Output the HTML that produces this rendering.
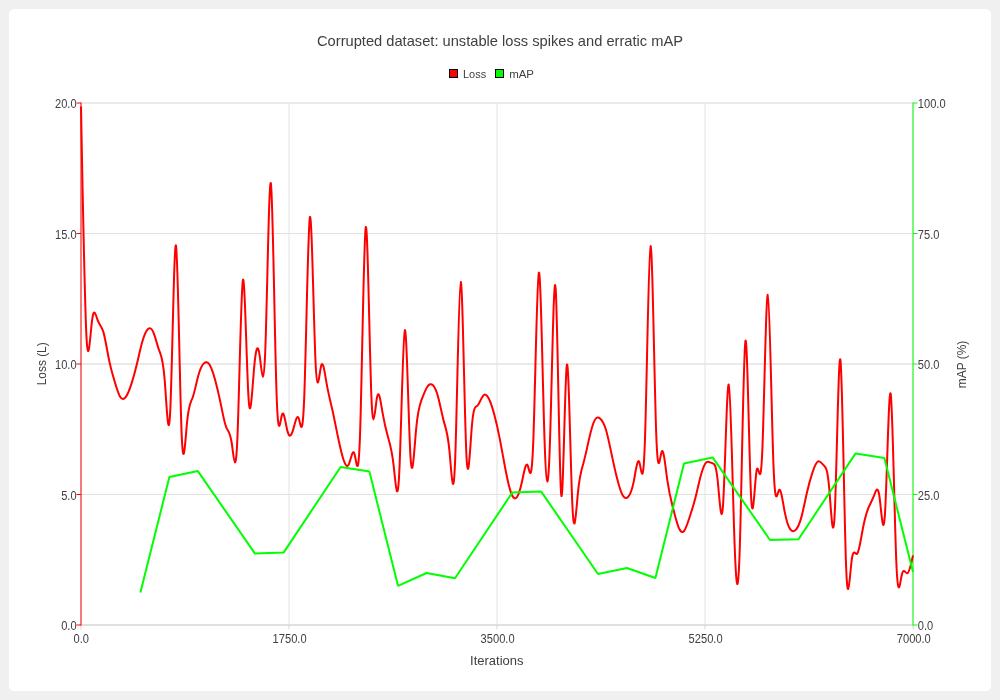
<!DOCTYPE html>
<html lang="en"><head><meta charset="utf-8"><title>Corrupted dataset: unstable loss spikes and erratic mAP</title>
<style>
html,body{margin:0;padding:0;background:#f0f0f0;width:1000px;height:700px;overflow:hidden}
svg{display:block}
text{font-family:"Liberation Sans",sans-serif;fill:#404044}
</style></head><body>
<svg width="1000" height="700" viewBox="0 0 1000 700">
<rect x="0" y="0" width="1000" height="700" fill="#f0f0f0"/>
<rect x="9" y="9" width="982" height="682" rx="5" ry="5" fill="#ffffff"/>
<g stroke="#e2e2e2" stroke-width="1" fill="none">
<line x1="81" y1="103" x2="81" y2="625"/><line x1="289" y1="103" x2="289" y2="625"/><line x1="497" y1="103" x2="497" y2="625"/><line x1="705" y1="103" x2="705" y2="625"/><line x1="913" y1="103" x2="913" y2="625"/><line x1="81" y1="103" x2="913" y2="103"/><line x1="81" y1="233.5" x2="913" y2="233.5"/><line x1="81" y1="364" x2="913" y2="364"/><line x1="81" y1="494.5" x2="913" y2="494.5"/><line x1="81" y1="625" x2="913" y2="625"/><line x1="81" y1="103" x2="913" y2="103"/><line x1="81" y1="364" x2="913" y2="364"/><line x1="81" y1="625" x2="913" y2="625"/>
</g>
<g stroke="#d6d6d6" stroke-width="1" fill="none">
<line x1="81" y1="625" x2="913" y2="625"/><line x1="81" y1="625" x2="81" y2="629.5"/><line x1="289" y1="625" x2="289" y2="629.5"/><line x1="497" y1="625" x2="497" y2="629.5"/><line x1="705" y1="625" x2="705" y2="629.5"/><line x1="913" y1="625" x2="913" y2="629.5"/>
</g>
<g stroke="#ff0000" stroke-width="1" fill="none">
<line x1="81" y1="103" x2="81" y2="625" stroke-linecap="square"/><line x1="76.5" y1="103" x2="81" y2="103"/><line x1="76.5" y1="233.5" x2="81" y2="233.5"/><line x1="76.5" y1="364" x2="81" y2="364"/><line x1="76.5" y1="494.5" x2="81" y2="494.5"/><line x1="76.5" y1="625" x2="81" y2="625"/>
</g>
<g stroke="#00ff00" stroke-width="1" fill="none">
<line x1="913" y1="103" x2="913" y2="625" stroke-linecap="square"/><line x1="913" y1="103" x2="917.5" y2="103"/><line x1="913" y1="233.5" x2="917.5" y2="233.5"/><line x1="913" y1="364" x2="917.5" y2="364"/><line x1="913" y1="494.5" x2="917.5" y2="494.5"/><line x1="913" y1="625" x2="917.5" y2="625"/>
</g>
<path d="M81 106.43C82.86 206.76 84.72 307.09 86.58 338.73C88.45 370.37 90.31 333.32 92.17 319.6C94.03 305.88 95.89 315.49 97.75 320.44C99.61 325.39 101.47 325.67 103.34 331.88C105.2 338.08 107.06 350.21 108.92 359.37C110.78 368.52 112.64 374.69 114.5 380.95C116.36 387.22 118.23 393.57 120.09 396.67C121.95 399.76 123.81 399.61 125.67 397.2C127.53 394.79 129.39 390.12 131.26 384.42C133.12 378.72 134.98 371.98 136.84 364.25C138.7 356.52 140.56 347.8 142.42 341.32C144.28 334.84 146.15 330.6 148.01 328.94C149.87 327.29 151.73 328.23 153.59 332.76C155.45 337.29 157.31 345.42 159.17 350.43C161.04 355.44 162.9 357.33 164.76 380.83C166.62 404.33 168.48 449.44 170.34 408.79C172.2 368.14 174.06 241.73 175.93 245.32C177.79 248.92 179.65 382.5 181.51 430.5C183.37 478.5 185.23 440.91 187.09 421.94C188.96 402.96 190.82 402.59 192.68 397.48C194.54 392.38 196.4 382.53 198.26 375.73C200.12 368.94 201.98 365.2 203.85 363.39C205.71 361.59 207.57 361.72 209.43 364.5C211.29 367.28 213.15 372.72 215.01 379.4C216.87 386.09 218.74 394.01 220.6 403.11C222.46 412.21 224.32 422.47 226.18 427.13C228.04 431.79 229.9 430.85 231.77 443.24C233.63 455.63 235.49 481.36 237.35 439.21C239.21 397.05 241.07 287.03 242.93 279.94C244.79 272.85 246.66 368.71 248.52 397.77C250.38 426.84 252.24 389.12 254.1 368.04C255.96 346.97 257.82 342.54 259.68 355.53C261.55 368.51 263.41 398.9 265.27 350.71C267.13 302.53 268.99 175.77 270.85 183.28C272.71 190.8 274.57 332.58 276.44 389.94C278.3 447.29 280.16 420.21 282.02 414.62C283.88 409.03 285.74 424.94 287.6 431.64C289.47 438.34 291.33 435.84 293.19 429.59C295.05 423.33 296.91 413.32 298.77 418.52C300.63 423.72 302.49 444.14 304.36 393.91C306.22 343.68 308.08 222.8 309.94 217.16C311.8 211.52 313.66 321.11 315.52 361.5C317.38 401.88 319.25 373.07 321.11 365.92C322.97 358.77 324.83 373.29 326.69 383.91C328.55 394.53 330.41 401.26 332.28 409.5C334.14 417.75 336 427.51 337.86 436.52C339.72 445.53 341.58 453.79 343.44 459.5C345.3 465.21 347.17 468.38 349.03 463.92C350.89 459.46 352.75 447.38 354.61 454.24C356.47 461.11 358.33 486.91 360.19 429.93C362.06 372.94 363.92 233.15 365.78 227.15C367.64 221.14 369.5 348.91 371.36 395.56C373.22 442.22 375.09 407.74 376.95 397.64C378.81 387.53 380.67 401.8 382.53 412.67C384.39 423.55 386.25 431.03 388.11 437.55C389.98 444.07 391.84 449.62 393.7 466.13C395.56 482.65 397.42 510.13 399.28 472.57C401.14 435.02 403 332.43 404.87 329.99C406.73 327.55 408.59 425.26 410.45 456.03C412.31 486.81 414.17 450.64 416.03 430.09C417.89 409.55 419.76 404.62 421.62 399.68C423.48 394.75 425.34 389.8 427.2 386.96C429.06 384.12 430.92 383.38 432.79 385.05C434.65 386.72 436.51 390.81 438.37 397.92C440.23 405.02 442.09 415.16 443.95 421.87C445.81 428.57 447.68 431.86 449.54 451.72C451.4 471.59 453.26 508.04 455.12 460.78C456.98 413.53 458.84 282.57 460.7 281.81C462.57 281.05 464.43 410.49 466.29 452.19C468.15 493.88 470.01 447.83 471.87 426.17C473.73 404.51 475.6 407.25 477.46 405.64C479.32 404.03 481.18 398.08 483.04 395.76C484.9 393.44 486.76 394.76 488.62 398.24C490.49 401.71 492.35 407.34 494.21 414.25C496.07 421.16 497.93 429.34 499.79 438.88C501.65 448.42 503.51 459.31 505.38 469.05C507.24 478.78 509.1 487.35 510.96 492.58C512.82 497.8 514.68 499.69 516.54 497.61C518.4 495.54 520.27 489.51 522.13 480.94C523.99 472.37 525.85 461.25 527.71 465.5C529.57 469.75 531.43 489.37 533.3 440.8C535.16 392.24 537.02 275.48 538.88 272.61C540.74 269.75 542.6 380.78 544.46 437.62C546.32 494.45 548.19 497.1 550.05 439.48C551.91 381.86 553.77 263.97 555.63 288.2C557.49 312.42 559.35 478.76 561.21 494.75C563.08 510.73 564.94 376.35 566.8 365.18C568.66 354.01 570.52 466.04 572.38 505.32C574.24 544.6 576.11 511.13 577.97 492.31C579.83 473.5 581.69 469.33 583.55 462.65C585.41 455.98 587.27 446.79 589.13 438.67C591 430.55 592.86 423.49 594.72 420.12C596.58 416.75 598.44 417.07 600.3 418.73C602.16 420.39 604.02 423.4 605.89 429.49C607.75 435.58 609.61 444.77 611.47 453.61C613.33 462.45 615.19 470.95 617.05 478.35C618.91 485.75 620.78 492.05 622.64 495.29C624.5 498.52 626.36 498.69 628.22 496.72C630.08 494.74 631.94 490.62 633.81 481.11C635.67 471.59 637.53 456.68 639.39 462.41C641.25 468.13 643.11 494.5 644.97 439.32C646.83 384.13 648.7 247.4 650.56 246.01C652.42 244.62 654.28 378.57 656.14 431.43C658 484.3 659.86 456.08 661.72 451.74C663.59 447.39 665.45 466.93 667.31 480.16C669.17 493.4 671.03 500.33 672.89 507.59C674.75 514.84 676.62 522.43 678.48 527.03C680.34 531.63 682.2 533.23 684.06 531.01C685.92 528.79 687.78 522.75 689.64 517C691.51 511.25 693.37 505.8 695.23 498.62C697.09 491.44 698.95 482.54 700.81 475.61C702.67 468.68 704.53 463.71 706.4 462.22C708.26 460.72 710.12 462.68 711.98 463.1C713.84 463.51 715.7 462.37 717.56 479.41C719.43 496.44 721.29 531.66 723.15 503.26C725.01 474.86 726.87 382.85 728.73 384.56C730.59 386.26 732.45 481.67 734.32 536.38C736.18 591.1 738.04 605.12 739.9 543.98C741.76 482.84 743.62 346.53 745.48 340.79C747.34 335.05 749.21 459.87 751.07 496.05C752.93 532.23 754.79 479.77 756.65 470.29C758.51 460.8 760.37 494.28 762.23 452.58C764.1 410.88 765.96 294 767.82 294.76C769.68 295.51 771.54 413.92 773.4 463.28C775.26 512.64 777.13 492.96 778.99 490.14C780.85 487.32 782.71 501.36 784.57 511.15C786.43 520.94 788.29 526.48 790.15 529.19C792.02 531.9 793.88 531.77 795.74 529.82C797.6 527.87 799.46 524.09 801.32 517.37C803.18 510.65 805.04 500.98 806.91 492.8C808.77 484.63 810.63 477.94 812.49 472.35C814.35 466.76 816.21 462.26 818.07 461.44C819.94 460.62 821.8 463.46 823.66 465.17C825.52 466.88 827.38 467.45 829.24 488.51C831.1 509.57 832.96 551.12 834.83 511.12C836.69 471.13 838.55 349.58 840.41 359.75C842.27 369.92 844.13 511.8 845.99 563.28C847.85 614.75 849.72 575.83 851.58 561.04C853.44 546.25 855.3 555.58 857.16 553.78C859.02 551.99 860.88 539.06 862.74 529.25C864.61 519.43 866.47 512.73 868.33 508.09C870.19 503.45 872.05 500.87 873.91 495.98C875.77 491.08 877.64 483.88 879.5 496.91C881.36 509.95 883.22 543.22 885.08 512.02C886.94 480.82 888.8 385.14 890.66 393.73C892.53 402.32 894.39 515.18 896.25 560.22C898.11 605.27 899.97 582.5 901.83 574.67C903.69 566.84 905.55 573.95 907.42 573.25C909.28 572.55 911.14 564.03 913 555.51" fill="none" stroke="#ff0000" stroke-width="2" stroke-linejoin="round" stroke-linecap="butt"/>
<path d="M140.4 592.4L169.4 477L197.7 470.9L255 553.6L283.6 552.6L340.6 467L369.4 471.6L398 585.8L426.6 573L455 578.3L512.4 492.4L541.2 491.6L598 574L627 568L655.4 578L684 463.4L712.6 457.4L770 540L798.5 539.2L855.6 453.4L884.4 458L913 572" fill="none" stroke="#00ff00" stroke-width="2" stroke-linejoin="bevel" stroke-linecap="butt"/>
<text x="317" y="46" font-size="14.5" textLength="366" lengthAdjust="spacingAndGlyphs">Corrupted dataset: unstable loss spikes and erratic mAP</text>
<text x="463" y="77.8" font-size="11.5" textLength="23.2" lengthAdjust="spacingAndGlyphs">Loss</text>
<text x="509.2" y="77.8" font-size="11.5" textLength="24.8" lengthAdjust="spacingAndGlyphs">mAP</text>
<text x="76.6" y="108.2" font-size="12" text-anchor="end" textLength="21.6" lengthAdjust="spacingAndGlyphs">20.0</text>
<text x="76.6" y="238.8" font-size="12" text-anchor="end" textLength="21.6" lengthAdjust="spacingAndGlyphs">15.0</text>
<text x="76.6" y="369.2" font-size="12" text-anchor="end" textLength="21.6" lengthAdjust="spacingAndGlyphs">10.0</text>
<text x="76.6" y="499.8" font-size="12" text-anchor="end" textLength="15.4" lengthAdjust="spacingAndGlyphs">5.0</text>
<text x="76.6" y="630.2" font-size="12" text-anchor="end" textLength="15.4" lengthAdjust="spacingAndGlyphs">0.0</text>
<text x="917.8" y="108.2" font-size="12" textLength="27.8" lengthAdjust="spacingAndGlyphs">100.0</text>
<text x="917.8" y="238.8" font-size="12" textLength="21.6" lengthAdjust="spacingAndGlyphs">75.0</text>
<text x="917.8" y="369.2" font-size="12" textLength="21.6" lengthAdjust="spacingAndGlyphs">50.0</text>
<text x="917.8" y="499.8" font-size="12" textLength="21.6" lengthAdjust="spacingAndGlyphs">25.0</text>
<text x="917.8" y="630.2" font-size="12" textLength="15.4" lengthAdjust="spacingAndGlyphs">0.0</text>
<text x="81.3" y="643.2" font-size="12" text-anchor="middle" textLength="15.4" lengthAdjust="spacingAndGlyphs">0.0</text>
<text x="289.6" y="643.2" font-size="12" text-anchor="middle" textLength="34" lengthAdjust="spacingAndGlyphs">1750.0</text>
<text x="497.6" y="643.2" font-size="12" text-anchor="middle" textLength="34" lengthAdjust="spacingAndGlyphs">3500.0</text>
<text x="705.6" y="643.2" font-size="12" text-anchor="middle" textLength="34" lengthAdjust="spacingAndGlyphs">5250.0</text>
<text x="913.8" y="643.2" font-size="12" text-anchor="middle" textLength="34" lengthAdjust="spacingAndGlyphs">7000.0</text>
<text x="496.8" y="664.8" font-size="12.2" text-anchor="middle" textLength="53.4" lengthAdjust="spacingAndGlyphs">Iterations</text>
<text x="0" y="0" font-size="12.2" text-anchor="middle" textLength="43" lengthAdjust="spacingAndGlyphs" transform="translate(45.8 363.8) rotate(-90)">Loss (L)</text>
<text x="0" y="0" font-size="12.2" text-anchor="middle" textLength="47.5" lengthAdjust="spacingAndGlyphs" transform="translate(965.6 364.5) rotate(-90)">mAP (%)</text>
<rect x="449.5" y="69.5" width="8" height="8" fill="#ff0000" stroke="#000000" stroke-width="1"/>
<rect x="495.5" y="69.5" width="8" height="8" fill="#00ff00" stroke="#000000" stroke-width="1"/>
</svg>
</body></html>
